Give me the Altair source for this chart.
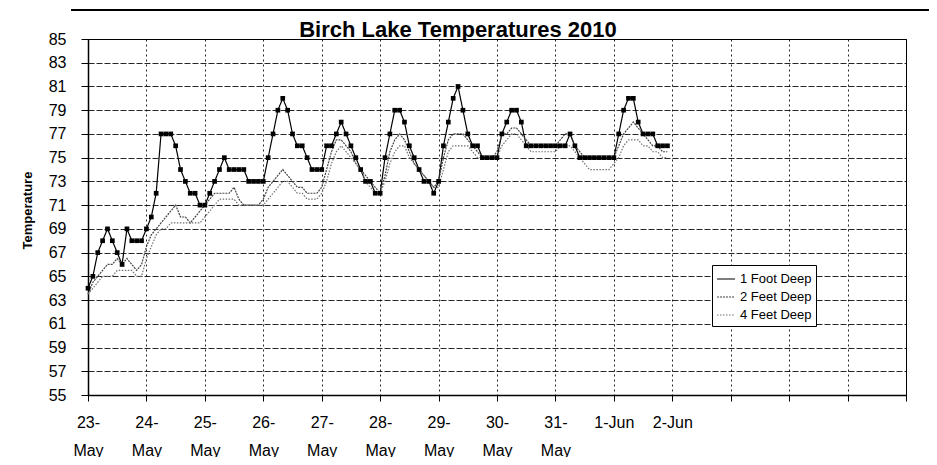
import altair as alt
import pandas as pd

# ---- data (readings every 2 hours from 23-May 00:00) ----
hours = list(range(0, 240, 2))

foot1 = [
    64, 65, 67, 68, 69, 68, 67, 66, 69, 68, 68, 68,          # 23-May
    69, 70, 72, 77, 77, 77, 76, 74, 73, 72, 72, 71,          # 24-May
    71, 72, 73, 74, 75, 74, 74, 74, 74, 73, 73, 73,          # 25-May
    73, 75, 77, 79, 80, 79, 77, 76, 76, 75, 74, 74,          # 26-May
    74, 76, 76, 77, 78, 77, 76, 75, 74, 73, 73, 72,          # 27-May
    72, 75, 77, 79, 79, 78, 76, 75, 74, 73, 73, 72,          # 28-May
    73, 76, 78, 80, 81, 79, 77, 76, 76, 75, 75, 75,          # 29-May
    75, 77, 78, 79, 79, 78, 76, 76, 76, 76, 76, 76,          # 30-May
    76, 76, 76, 77, 76, 75, 75, 75, 75, 75, 75, 75,          # 31-May
    75, 77, 79, 80, 80, 78, 77, 77, 77, 76, 76, 76,          # 1-Jun
]
feet2 = [
    63.5, 64.5, 65, 65.5, 66, 66, 66.5, 66, 66.5, 66, 65.5, 66,
    67.5, 68.5, 69, 69.5, 70, 70.5, 71, 70, 70, 69.5, 70, 70.5,
    71, 71.5, 72, 72, 72, 72, 72.5, 71.5, 71, 71, 71, 71,
    71.5, 72.5, 73, 73.5, 74, 73.5, 73, 72.5, 72.5, 72, 72, 72,
    72.5, 74, 75.5, 76.5, 76.5, 76, 75.5, 74.5, 74, 73.5, 73, 72.5,
    72, 73.5, 75.5, 76.5, 77, 76.5, 75.5, 74.5, 74, 73.5, 73, 72.5,
    73, 75, 76.5, 77, 77, 77, 76.5, 76, 75.5, 75, 75, 75,
    75.5, 77, 77, 77.5, 77.5, 77, 76.5, 76, 76, 76, 76, 76,
    76, 76.5, 77, 77, 76, 75.5, 75, 75, 75, 75, 75, 75,
    75, 76, 77, 77.5, 78, 77.5, 77, 76.5, 76, 76, 75.5, 75.5,
]
feet4 = [
    63.5, 64, 64.5, 65, 65, 65, 65.5, 65.5, 65.5, 65.5, 65, 65,
    66.5, 67.5, 68.5, 69, 69, 69.5, 69.5, 69.5, 69.5, 69.5, 69.5, 69.5,
    70, 70.5, 71, 71.5, 71.5, 71.5, 71.5, 71, 71, 71, 71, 71,
    71, 71.5, 72, 72.5, 73, 73, 72.5, 72, 72, 71.5, 71.5, 71.5,
    72, 73, 74.5, 75.5, 76, 75.5, 75, 74.5, 74, 73, 72.5, 72,
    72, 73, 74.5, 75.5, 76, 76, 75, 74.5, 74, 73.5, 73, 72.5,
    72.5, 74, 75.5, 76, 76, 76, 76, 75.5, 75, 75, 75, 75,
    75, 76, 76.5, 77, 77, 76.5, 76, 75.5, 75.5, 75.5, 75.5, 75.5,
    75.5, 76, 76, 76, 75.5, 75, 74.5, 74, 74, 74, 74, 74,
    74.5, 75, 76, 76.5, 76.5, 76.5, 76, 76, 75.5, 75.5, 75, 75,
]

series_names = ["1 Foot Deep", "2 Feet Deep", "4 Feet Deep"]
chart_title = "Birch Lake Temperatures 2010"
day_labels = ["23-|May", "24-|May", "25-|May", "26-|May", "27-|May", "28-|May",
              "29-|May", "30-|May", "31-|May", "1-Jun", "2-Jun", "", "", "", ""]
day_ticks = [24 * i for i in range(len(day_labels))]
y_ticks = list(range(55, 86, 2))

df = pd.DataFrame({
    "hour": hours * 3,
    "series": [series_names[0]] * len(hours) + [series_names[1]] * len(hours) + [series_names[2]] * len(hours),
    "temp": foot1 + feet2 + feet4,
})

FONT = "Liberation Sans"
label_array = "[" + ",".join("'" + s + "'" for s in day_labels) + "]"

x_enc = alt.X(
    "hour:Q",
    scale=alt.Scale(domain=[0, day_ticks[-1]], nice=False, zero=False),
    axis=alt.Axis(
        values=day_ticks, tickCount=40, title=None, labelAngle=0,
        labelExpr="split(" + label_array + "[round(datum.value / 24)], '|')",
        labelFontSize=16, labelLineHeight=28, labelColor="black", labelFont=FONT,
        labelOverlap=False, labelFlush=False, labelPadding=13, labelBaseline="top",
        tickSize=6, tickColor="black", domainColor="black", domainWidth=1.5,
        grid=True, gridColor="black", gridDash=[2, 3], gridOpacity=0.85,
    ),
)
y_enc = alt.Y(
    "temp:Q",
    scale=alt.Scale(domain=[55, 85], nice=False, zero=False),
    axis=alt.Axis(
        values=y_ticks, tickCount=40, title="Temperature", titleFont=FONT, titleFontSize=13,
        titleFontWeight="bold", titleColor="black", titleX=-61, titleY=171,
        titleAlign="center", titleBaseline="middle",
        labelFontSize=16, labelColor="black", labelFont=FONT, labelPadding=15,
        labelOverlap=False,
        tickSize=7, tickColor="black", domainColor="black", domainWidth=1.5,
        grid=True, gridColor="black", gridDash=[6, 2], gridOpacity=0.85,
    ),
)

lines = alt.Chart(df).mark_line(strokeWidth=1.2).encode(
    x=x_enc,
    y=y_enc,
    color=alt.Color(
        "series:N",
        scale=alt.Scale(domain=series_names, range=["#000000", "#444444", "#707070"]),
        legend=alt.Legend(
            title=None, orient="none", legendX=624, legendY=226,
            fillColor="white", strokeColor="black", padding=4,
            symbolType="stroke", symbolSize=324, symbolStrokeWidth=1.2,
            symbolStrokeColor="black", symbolDash=[1, 0],
            labelFont=FONT, labelFontSize=13, labelColor="black",
            labelOffset=4, rowPadding=1,
        ),
    ),
    strokeDash=alt.StrokeDash("series:N", scale=alt.Scale(domain=series_names,
                              range=[[1, 0], [2, 1], [1.5, 1.5]]), legend=None),
)

markers = alt.Chart(df).transform_filter(
    alt.datum.series == series_names[0]
).mark_point(shape="square", filled=True, size=22, color="black", opacity=1).encode(
    x="hour:Q", y="temp:Q"
)

title_text = alt.Chart(pd.DataFrame({"t": [chart_title]})).mark_text(
    font=FONT, fontSize=22, fontWeight="bold", color="black",
    align="center", baseline="alphabetic",
).encode(text="t:N", x=alt.value(370), y=alt.value(-2))

top_rule = alt.Chart(pd.DataFrame({"a": [0]})).mark_rule(color="black", strokeWidth=2).encode(
    x=alt.value(-17), x2=alt.value(841), y=alt.value(-29)
)

chart = alt.layer(lines, markers, title_text, top_rule).properties(
    width=818,
    height=356,
    padding={"left": 80, "top": 31, "right": 23, "bottom": 62},
    autosize=alt.AutoSizeParams(type="none"),
    background="white",
).configure_view(stroke="black", strokeWidth=1)

chart.save("out.html", embed_options={"renderer": "svg", "actions": False})
